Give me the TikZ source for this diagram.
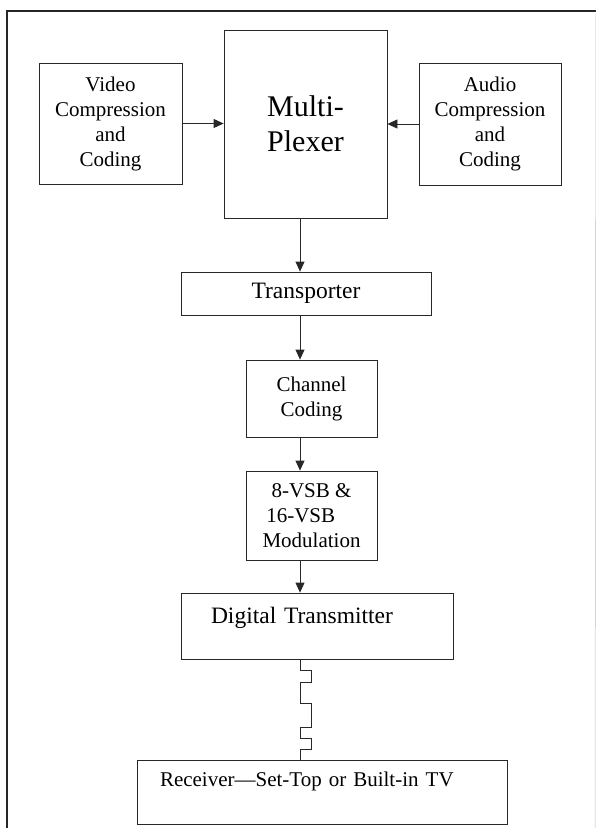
\documentclass[tikz,border=0pt]{standalone}
\usepackage{fontspec}
\setmainfont{Liberation Serif}
\usetikzlibrary{arrows.meta}
\definecolor{lcol}{RGB}{40,40,40}
\tikzset{every picture/.style={x=1pt,y=-1pt}}
\tikzset{block/.style={draw=lcol,line width=0.8pt,inner sep=0pt,align=center,font=\fontsize{21}{25}\selectfont}}
\tikzset{edge/.style={lcol,line width=0.8pt,-{Triangle[length=10pt,width=9pt]}}}
\tikzset{big/.style={font=\fontsize{23.5}{28}\selectfont}}

\begin{document}
\begin{tikzpicture}
\useasboundingbox (0,0) rectangle (596,828);

% frame
\coordinate (f1) at (7,828);
\coordinate (f2) at (7,11);
\coordinate (f3) at (596,11);
\coordinate (f4) at (595,828);
\draw [line width=1.8pt,black!85] (f1) -- (f2) -- (f3);
\draw [line width=0.5pt,black!25] (f3) -- (f4);

\coordinate (axis) at (300,0);

\node [block,minimum width=143,minimum height=121] (video) at (110.5,123.5) {Video\\Compression\\and\\Coding};
\node [block,minimum width=163,minimum height=188,font=\fontsize{30}{35}\selectfont] (mux) at (305.5,124) {Multi-\\Plexer};
\node [block,minimum width=142,minimum height=122] (audio) at (490,124) {Audio\\Compression\\and\\Coding};

\node [block,big,minimum width=250,minimum height=43] (trans) at (306,293.5) {Transporter};
\node [block,minimum width=131,minimum height=77] (chan) at (311.5,398.5) {Channel\\Coding};
\node [block,minimum width=131,minimum height=89] (vsb) at (311.5,515.5) {8-VSB \&\\16-VSB\phantom{~\&}\\Modulation};
\node [block,big,minimum width=272,minimum height=66,inner xsep=30,text width=212,align=left,text height=16,text depth=22] (dtx) at (317,626) {Digital Transmitter};
\node [block,minimum width=370,minimum height=64,inner xsep=23,text width=324,align=left,text height=14,text depth=26] (recv) at (322,792) {Receiver---Set-Top or Built-in TV};

\draw [edge] (video.east) -- (video.east -| mux.west);
\draw [edge] (audio.west) -- (audio.west -| mux.east);

\draw [edge] (mux.south -| axis) -- (trans.north -| axis);
\draw [edge] (trans.south -| axis) -- (chan.north -| axis);
\draw [edge] (chan.south -| axis) -- (vsb.north -| axis);
\draw [edge] (vsb.south -| axis) -- (dtx.north -| axis);

% broadcast link
\draw [lcol,line width=0.8pt] (dtx.south -| axis) -- ++(0,11) -- ++(11,0) -- ++(0,12) -- ++(-11,0)
  -- ++(0,21) -- ++(11,0) -- ++(0,24) -- ++(-11,0)
  -- ++(0,11) -- ++(11,0) -- ++(0,11) -- ++(-11,0) -- (recv.north -| axis);
\end{tikzpicture}
\end{document}
